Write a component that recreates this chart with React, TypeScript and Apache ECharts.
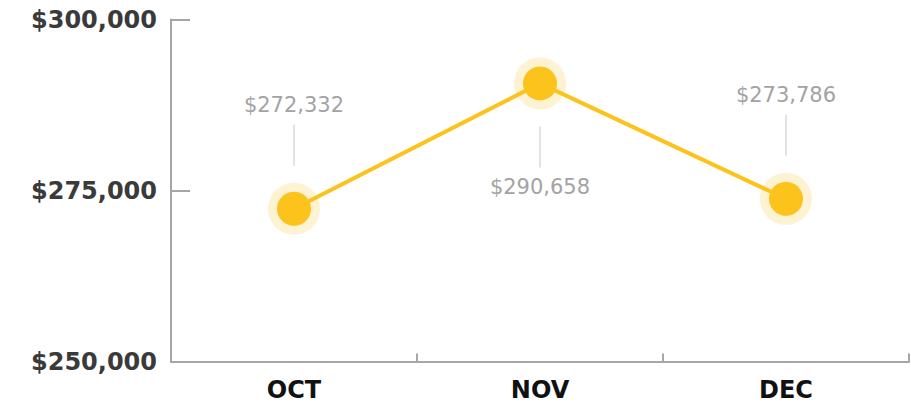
import React, { useEffect, useRef } from "react";
import * as echarts from "echarts";

const categories = ["OCT", "NOV", "DEC"];
const revenue = [272332, 290658, 273786];
const labelSide = ["top", "bottom", "top"];
const yTicks = { min: 250000, max: 300000, interval: 25000 };

const YELLOW = "#fbc31c";
const HALO = "#fdefc6";

const fmt = (v: number) => "$" + Math.round(v).toLocaleString("en-US");

export default function App() {
  const ref = useRef<HTMLDivElement>(null);
  useEffect(() => {
    if (!ref.current) return;
    const chart = echarts.init(ref.current, null, { renderer: "svg" });
    chart.setOption({
      animation: false,
      grid: { left: 171, right: 2, top: 19.5, bottom: 45.5, containLabel: false },
      xAxis: {
        type: "category",
        data: categories,
        boundaryGap: true,
        axisLine: { show: true, lineStyle: { color: "#a6a6a6", width: 2 } },
        axisTick: { show: true, inside: true, length: 8, interval: 0, lineStyle: { color: "#a6a6a6", width: 2 } },
        axisLabel: {
          margin: 16,
          color: "#111",
          fontFamily: "DejaVu Sans",
          fontWeight: "bold",
          fontSize: 24,
        },
        splitLine: { show: false },
      },
      yAxis: {
        type: "value",
        min: yTicks.min,
        max: yTicks.max,
        interval: yTicks.interval,
        axisLine: { show: true, lineStyle: { color: "#a6a6a6", width: 2 } },
        axisTick: { show: true, inside: true, length: 19, lineStyle: { color: "#a6a6a6", width: 2 } },
        axisLabel: {
          margin: 14,
          color: "#3a3a3a",
          fontFamily: "DejaVu Sans",
          fontWeight: "bold",
          fontSize: 24,
          formatter: (v: number) => fmt(v),
        },
        splitLine: { show: false },
      },
      series: [
        {
          type: "scatter",
          data: revenue,
          symbolSize: 52,
          itemStyle: { color: HALO },
          z: 1,
          silent: true,
        },
        {
          type: "line",
          data: revenue,
          symbol: "circle",
          symbolSize: 34,
          showAllSymbol: true,
          itemStyle: { color: YELLOW },
          lineStyle: { color: YELLOW, width: 4 },
          z: 2,
        },
        {
          type: "custom",
          z: 3,
          data: revenue.map((v, i) => [i, v]),
          renderItem: (params: any, api: any) => {
            const p = api.coord([api.value(0), api.value(1)]);
            const side = labelSide[params.dataIndex];
            const d = side === "top" ? -1 : 1;
            return {
              type: "group",
              children: [
                {
                  type: "line",
                  shape: { x1: p[0], y1: p[1] + d * 43, x2: p[0], y2: p[1] + d * 84 },
                  style: { stroke: "#e2e2e2", lineWidth: 2 },
                },
                {
                  type: "text",
                  style: {
                    text: fmt(api.value(1)),
                    x: p[0],
                    y: p[1] + d * 104,
                    align: "center",
                    verticalAlign: "middle",
                    fill: "#a3a3a3",
                    fontFamily: "DejaVu Sans",
                    fontSize: 21,
                  },
                },
              ],
            };
          },
        },
      ],
    });
    return () => chart.dispose();
  }, []);
  return <div ref={ref} style={{ width: 911, height: 407, position: "absolute", left: 0, top: 0 }} />;
}
